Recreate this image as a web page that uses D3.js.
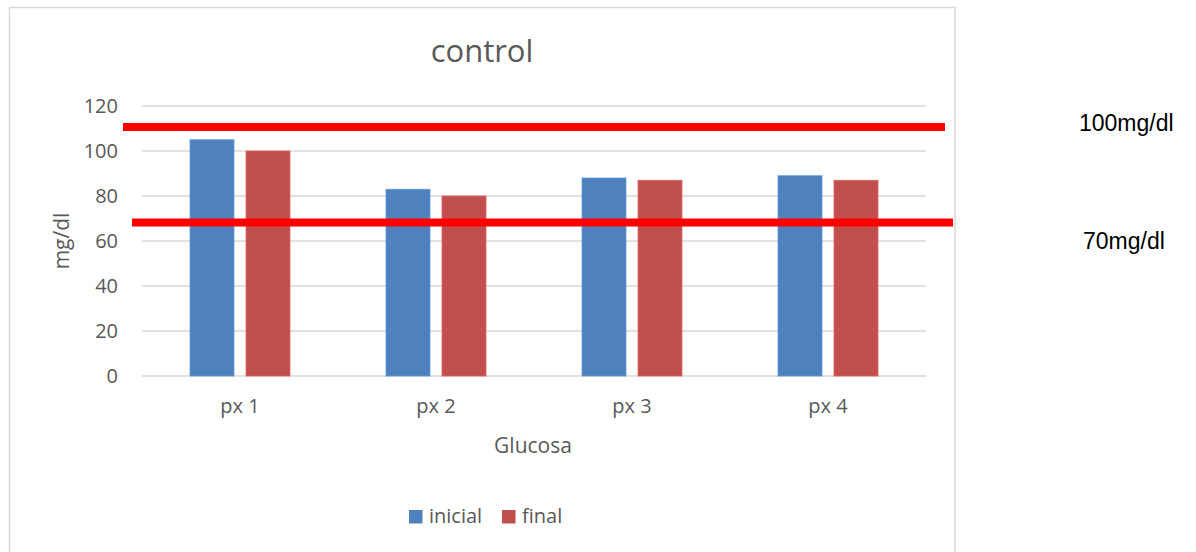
<!DOCTYPE html>
<html><head><meta charset="utf-8">
<script src="https://cdn.jsdelivr.net/npm/d3@7/dist/d3.min.js"></script>
<style>body{margin:0;background:#fff;}svg{display:block;}</style>
</head><body>
<svg id="c" width="1196" height="552"></svg>
<script>
(function(){
const categories = ["px 1", "px 2", "px 3", "px 4"];
const series = ["inicial", "final"];
const inicial = [105, 83, 88, 89];
const finalV = [100, 80, 87, 87];
const yTicks = [0, 20, 40, 60, 80, 100, 120];
const refValues = [110.7, 68.2];
const refLabels = ["100mg/dl", "70mg/dl"];
const colors = ["#4F81BD", "#C0504D"];

const svg = d3.select("#c");
const txt = "#595959";
const font = "'Open Sans', sans-serif";

// chart area border
svg.append("rect").attr("x", 9.5).attr("y", 7.5).attr("width", 945.5).attr("height", 560)
  .attr("fill", "#fff").attr("stroke", "#d9d9d9").attr("stroke-width", 1.5);

const pLeft = 142, pRight = 926, pTop = 106, pBottom = 376;
const y = d3.scaleLinear().domain([0, 120]).range([pBottom, pTop]);
const x0 = d3.scaleBand().domain(categories).range([pLeft, pRight]).padding(0);
const x1 = d3.scaleBand().domain(series).range([48, 148]).paddingInner(12/56).paddingOuter(0);

// gridlines
svg.append("g").selectAll("line").data(yTicks).join("line")
  .attr("x1", pLeft).attr("x2", pRight)
  .attr("y1", d => y(d)).attr("y2", d => y(d))
  .attr("stroke", "#d9d9d9").attr("stroke-width", 1.5);

// y tick labels
svg.append("g").selectAll("text").data(yTicks).join("text")
  .attr("x", 118).attr("y", d => y(d)).attr("dy", "0.36em")
  .attr("text-anchor", "end").attr("fill", txt)
  .style("font-family", font).style("font-size", "20px").text(d => d);

// bars
const data = categories.map((c, i) => ({c, vals: [inicial[i], finalV[i]]}));
const g = svg.append("g").selectAll("g").data(data).join("g")
  .attr("transform", d => `translate(${x0(d.c)},0)`);
g.selectAll("rect").data(d => d.vals.map((v, j) => ({s: series[j], v, j}))).join("rect")
  .attr("x", d => x1(d.s)).attr("width", x1.bandwidth())
  .attr("y", d => y(d.v)).attr("height", d => y(0) - y(d.v))
  .attr("fill", d => colors[d.j])
  .attr("stroke", d => d3.color(colors[d.j]).brighter(0.5)).attr("stroke-width", 0.8);

// x tick labels
svg.append("g").selectAll("text").data(categories).join("text")
  .attr("x", d => x0(d) + x0.bandwidth()/2).attr("y", 413)
  .attr("text-anchor", "middle").attr("fill", txt)
  .style("font-family", font).style("font-size", "20px").text(d => d);

// title
svg.append("text").attr("x", 482).attr("y", 62).attr("text-anchor", "middle")
  .attr("fill", txt).style("font-family", font).style("font-size", "31px").text("control");

// axis titles
svg.append("text").attr("x", 533).attr("y", 453).attr("text-anchor", "middle")
  .attr("fill", txt).style("font-family", font).style("font-size", "21px").text("Glucosa");
svg.append("text").attr("transform", "translate(69,241) rotate(-90)").attr("text-anchor", "middle")
  .attr("fill", txt).style("font-family", font).style("font-size", "21px").text("mg/dl");

// legend
const leg = svg.append("g").selectAll("g").data(series).join("g")
  .attr("transform", (d, i) => `translate(${i === 0 ? 409 : 502},510)`);
leg.append("rect").attr("width", 13.5).attr("height", 13.5).attr("fill", (d, i) => colors[i]);
leg.append("text").attr("x", 20).attr("y", 13).attr("fill", txt)
  .style("font-family", font).style("font-size", "20px").text(d => d);

// red reference lines (drawn over)
const refExt = [[pLeft - 19, pRight + 19], [pLeft - 10, pRight + 27]];
svg.append("g").selectAll("line").data(refValues).join("line")
  .attr("x1", (d, i) => refExt[i][0]).attr("x2", (d, i) => refExt[i][1])
  .attr("y1", d => y(d)).attr("y2", d => y(d))
  .attr("stroke", "#FF0000").attr("stroke-width", 8);

// right labels
const labY = [131, 249];
const labX = [1079, 1083];
svg.append("g").selectAll("text").data(refLabels).join("text")
  .attr("x", (d, i) => labX[i]).attr("y", (d, i) => labY[i])
  .attr("fill", "#000").style("font-family", "'Liberation Sans', Arial, sans-serif")
  .style("font-size", "23px").text(d => d);
})();
</script>
</body></html>
